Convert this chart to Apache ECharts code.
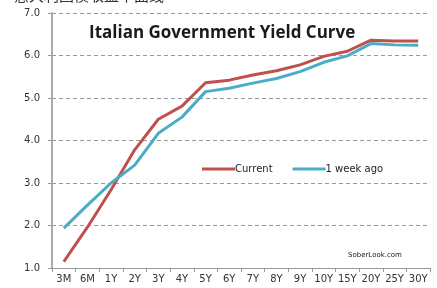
<!DOCTYPE html>
<html>
<head>
    <meta charset="utf-8">
    <title>Italian Government Yield Curve</title>
    <script src="https://cdn.jsdelivr.net/npm/echarts@6/dist/echarts.min.js"></script>
    <style>
        html, body { margin: 0; padding: 0; background: #fff; }
    </style>
</head>
<body>
    <div id="main" style="width: 437px;height:288px;"></div>
    <script type="text/javascript">
    // 期限
    var tenors = ['3M', '6M', '1Y', '2Y', '3Y', '4Y', '5Y', '6Y', '7Y', '8Y', '9Y', '10Y', '15Y', '20Y', '25Y', '30Y'];
    // 当前收益率
    var current = [1.15, 1.96, 2.84, 3.78, 4.5, 4.81, 5.36, 5.42, 5.54, 5.64, 5.78, 5.98, 6.1, 6.36, 6.34, 6.34];
    // 一周前
    var weekAgo = [1.94, 2.48, 3.0, 3.42, 4.17, 4.55, 5.15, 5.23, 5.35, 5.46, 5.62, 5.84, 5.99, 6.28, 6.25, 6.24];

    var myChart = echarts.init(document.getElementById('main'));

    var option = {
        backgroundColor: '#fff',
        animation: false,
        title: {
            text: 'Italian Government Yield Curve',
            left: 84,
            top: 20,
            textStyle: { fontFamily: 'Open Sans', fontWeight: 'bold', fontSize: 17, color: '#1a1a1a' }
        },
        graphic: [
            {
                type: 'text', left: 14, top: -12,
                style: { text: '意大利国债收益率曲线', font: '15px "Noto Sans CJK SC"', fill: '#333' }
            },
            {
                type: 'text', left: 348, top: 252,
                style: { text: 'SoberLook.com', font: '7px "DejaVu Sans"', fill: '#222' }
            }
        ],
        legend: {
            left: 197,
            top: 159,
            itemWidth: 33,
            itemHeight: 3,
            itemGap: 20,
            icon: 'rect',
            textStyle: { fontFamily: 'DejaVu Sans', fontSize: 10, color: '#222', padding: [0, 0, 0, -5] },
            data: ['Current', '1 week ago']
        },
        grid: { left: 52, right: 7, top: 13, bottom: 20 },
        xAxis: {
            type: 'category',
            data: tenors,
            boundaryGap: true,
            axisLine: { lineStyle: { color: '#999', width: 1 } },
            axisTick: { show: true, alignWithLabel: false, length: 4, lineStyle: { color: '#999' } },
            axisLabel: { interval: 0, margin: 6, fontFamily: 'DejaVu Sans', fontSize: 10, color: '#333' }
        },
        yAxis: {
            type: 'value',
            min: 1,
            max: 7,
            interval: 1,
            axisLine: { show: true, lineStyle: { color: '#aaa', width: 2 } },
            axisTick: { show: true, length: 4, lineStyle: { color: '#999' } },
            axisLabel: {
                margin: 12,
                fontFamily: 'DejaVu Sans', fontSize: 10, color: '#333',
                formatter: function (v) { return v.toFixed(1); }
            },
            splitLine: { lineStyle: { color: '#999', type: [4, 3], width: 1 } }
        },
        series: [
            {
                name: 'Current',
                type: 'line',
                data: current,
                symbol: 'none',
                lineStyle: { color: '#C0504D', width: 3 },
                itemStyle: { color: '#C0504D' }
            },
            {
                name: '1 week ago',
                type: 'line',
                data: weekAgo,
                symbol: 'none',
                lineStyle: { color: '#4BACC6', width: 3 },
                itemStyle: { color: '#4BACC6' }
            }
        ]
    };

    myChart.setOption(option);
    </script>
</body>
</html>
